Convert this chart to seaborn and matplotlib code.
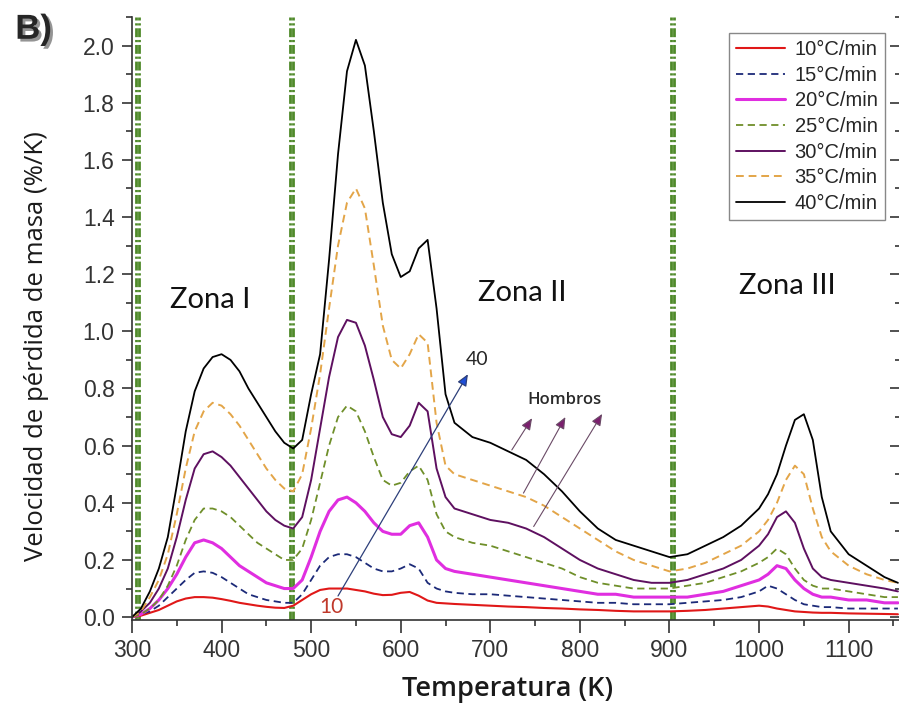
import matplotlib
matplotlib.use('Agg')
import matplotlib.pyplot as plt
import matplotlib.patheffects as pe
from matplotlib.ticker import MultipleLocator
import seaborn as sns

# --- data (K, %/K) ---
temps = [300, 310, 320, 330, 340, 350, 360, 370, 380, 390, 400, 410, 420, 430, 440, 450,
         460, 470, 480, 490, 500, 510, 520, 530, 540, 550, 560, 570, 580, 590, 600, 610,
         620, 630, 640, 650, 660, 680, 700, 720, 740, 760, 780, 800, 820, 840, 860, 880,
         900, 920, 940, 960, 980, 1000, 1010, 1020, 1030, 1040, 1050, 1060, 1070, 1080,
         1100, 1120, 1140, 1155]

rate_10 = [0.0, 0.005, 0.015, 0.025, 0.04, 0.055, 0.065, 0.07, 0.07, 0.068, 0.063, 0.057,
           0.05, 0.045, 0.04, 0.036, 0.033, 0.032, 0.04, 0.06, 0.08, 0.095, 0.10, 0.10, 0.10,
           0.095, 0.09, 0.082, 0.077, 0.078, 0.085, 0.088, 0.075, 0.058, 0.05, 0.048, 0.046,
           0.043, 0.04, 0.037, 0.035, 0.032, 0.03, 0.027, 0.025, 0.022, 0.02, 0.02, 0.02,
           0.022, 0.025, 0.03, 0.035, 0.04, 0.037, 0.03, 0.025, 0.02, 0.018, 0.016, 0.015,
           0.015, 0.013, 0.012, 0.011, 0.01]
rate_15 = [0.0, 0.01, 0.02, 0.04, 0.07, 0.10, 0.13, 0.155, 0.16, 0.155, 0.14, 0.12, 0.10,
           0.08, 0.07, 0.06, 0.055, 0.05, 0.05, 0.08, 0.13, 0.18, 0.21, 0.22, 0.22, 0.21, 0.19,
           0.17, 0.16, 0.16, 0.17, 0.185, 0.17, 0.12, 0.10, 0.09, 0.085, 0.08, 0.08, 0.075,
           0.07, 0.065, 0.06, 0.055, 0.05, 0.05, 0.045, 0.045, 0.045, 0.05, 0.055, 0.06, 0.07,
           0.09, 0.11, 0.10, 0.08, 0.06, 0.045, 0.04, 0.035, 0.035, 0.03, 0.03, 0.03, 0.03]
rate_20 = [0.0, 0.01, 0.03, 0.06, 0.10, 0.15, 0.21, 0.26, 0.27, 0.26, 0.24, 0.21, 0.18,
           0.16, 0.14, 0.12, 0.11, 0.10, 0.10, 0.13, 0.21, 0.30, 0.37, 0.41, 0.42, 0.40, 0.37,
           0.33, 0.30, 0.29, 0.29, 0.32, 0.33, 0.28, 0.20, 0.17, 0.16, 0.15, 0.14, 0.13, 0.12,
           0.11, 0.10, 0.09, 0.08, 0.08, 0.07, 0.07, 0.07, 0.07, 0.08, 0.09, 0.11, 0.13, 0.15,
           0.18, 0.17, 0.13, 0.10, 0.08, 0.07, 0.07, 0.06, 0.06, 0.05, 0.05]
rate_25 = [0.0, 0.01, 0.03, 0.06, 0.11, 0.18, 0.27, 0.34, 0.38, 0.38, 0.37, 0.35, 0.32,
           0.29, 0.26, 0.24, 0.22, 0.20, 0.20, 0.24, 0.34, 0.47, 0.60, 0.70, 0.74, 0.72, 0.65,
           0.56, 0.48, 0.46, 0.47, 0.51, 0.53, 0.48, 0.36, 0.30, 0.28, 0.26, 0.25, 0.23, 0.21,
           0.19, 0.17, 0.14, 0.12, 0.11, 0.10, 0.10, 0.10, 0.11, 0.12, 0.14, 0.16, 0.19, 0.21,
           0.24, 0.22, 0.17, 0.13, 0.11, 0.10, 0.10, 0.09, 0.08, 0.07, 0.07]
rate_30 = [0.0, 0.02, 0.05, 0.10, 0.17, 0.28, 0.41, 0.52, 0.57, 0.58, 0.56, 0.53, 0.49,
           0.45, 0.41, 0.37, 0.34, 0.32, 0.31, 0.35, 0.48, 0.66, 0.84, 0.98, 1.04, 1.03, 0.95,
           0.83, 0.70, 0.64, 0.63, 0.67, 0.75, 0.72, 0.52, 0.42, 0.38, 0.36, 0.34, 0.33, 0.31,
           0.28, 0.24, 0.20, 0.17, 0.15, 0.13, 0.12, 0.12, 0.13, 0.15, 0.17, 0.20, 0.25, 0.29,
           0.35, 0.37, 0.33, 0.24, 0.17, 0.14, 0.13, 0.12, 0.11, 0.10, 0.09]
rate_35 = [0.0, 0.02, 0.07, 0.13, 0.22, 0.36, 0.52, 0.65, 0.72, 0.75, 0.74, 0.71, 0.67,
           0.62, 0.57, 0.52, 0.48, 0.45, 0.44, 0.50, 0.66, 0.85, 1.08, 1.30, 1.45, 1.50, 1.43,
           1.23, 1.02, 0.90, 0.87, 0.92, 0.99, 0.96, 0.68, 0.53, 0.50, 0.48, 0.46, 0.44, 0.42,
           0.39, 0.35, 0.31, 0.27, 0.23, 0.20, 0.18, 0.16, 0.17, 0.19, 0.22, 0.25, 0.30, 0.34,
           0.40, 0.48, 0.53, 0.50, 0.38, 0.28, 0.23, 0.18, 0.15, 0.13, 0.12]
rate_40 = [0.0, 0.03, 0.09, 0.17, 0.28, 0.46, 0.65, 0.79, 0.87, 0.91, 0.92, 0.90, 0.86,
           0.80, 0.75, 0.70, 0.65, 0.61, 0.59, 0.62, 0.78, 0.92, 1.25, 1.62, 1.91, 2.02, 1.93,
           1.70, 1.45, 1.27, 1.19, 1.21, 1.29, 1.32, 1.08, 0.78, 0.68, 0.63, 0.61, 0.58, 0.55,
           0.50, 0.44, 0.37, 0.31, 0.27, 0.25, 0.23, 0.21, 0.22, 0.25, 0.28, 0.32, 0.38, 0.43,
           0.50, 0.60, 0.69, 0.71, 0.62, 0.42, 0.30, 0.22, 0.18, 0.14, 0.12]

labels = ['10°C/min', '15°C/min', '20°C/min', '25°C/min', '30°C/min', '35°C/min', '40°C/min']
series = [rate_10, rate_15, rate_20, rate_25, rate_30, rate_35, rate_40]
colors = ['#e01818', '#1c2a78', '#e02ee0', '#6f8f2a', '#5e1060', '#e3a548', '#000000']
styles = ['-', (0, (4, 2.5)), '-', (0, (4, 2.5)), '-', (0, (4, 2.5)), '-']
widths = [1.5, 1.3, 2.2, 1.3, 1.4, 1.4, 1.3]

zone_bounds = [306, 478, 903]
zone_names = ['Zona I', 'Zona II', 'Zona III']
zone_pos = [(387, 1.11), (736, 1.135), (1032, 1.16)]

sns.set_style('ticks')
plt.rcParams['font.family'] = ['Liberation Sans', 'DejaVu Sans']

fig = plt.figure(figsize=(8.99, 7.10), dpi=100)
ax = fig.add_axes([0.1468, 0.1268, 0.8540, 0.8493])

# zone separators: doubled dash-dot lines
for xb in zone_bounds:
    for off in (-1.8, 1.8):
        ax.axvline(xb + off, color='#4f8a2a', lw=2.0, ls=(0, (3.2, 1.0, 0.8, 1.0)), zorder=1.5)

for vals, lab, c, ls, lw in zip(series, labels, colors, styles, widths):
    sns.lineplot(x=temps, y=vals, color=c, linestyle=ls, lw=lw, label=lab,
                 errorbar=None, ax=ax, zorder=2)

ax.set_xlim(300, 1157)
ax.set_ylim(-0.01, 2.1)
ax.xaxis.set_major_locator(MultipleLocator(100))
ax.xaxis.set_minor_locator(MultipleLocator(50))
ax.yaxis.set_major_locator(MultipleLocator(0.2))
ax.yaxis.set_minor_locator(MultipleLocator(0.1))
ax.yaxis.set_major_formatter(plt.FuncFormatter(lambda v, p: f'{v:.1f}'))

ax.spines['top'].set_visible(False)
for s in ('left', 'bottom', 'right'):
    ax.spines[s].set_color('#333333')
    ax.spines[s].set_linewidth(1.2)
ax.tick_params(axis='both', which='major', direction='out', length=9, width=1.2,
               color='#333333', labelsize=16.5, labelcolor='#333333', pad=5)
ax.tick_params(axis='both', which='minor', direction='out', length=4.5, width=1.2, color='#333333')
ax.tick_params(axis='y', which='major', length=7.5)

# inward ticks on the right edge
sec = ax.secondary_yaxis('right')
sec.yaxis.set_major_locator(MultipleLocator(0.2))
sec.yaxis.set_minor_locator(MultipleLocator(0.1))
sec.tick_params(which='major', direction='in', length=7, width=1.2, color='#333333', labelright=False)
sec.tick_params(which='minor', direction='in', length=3.5, width=1.2, color='#333333')
sec.spines['right'].set_color('#333333')

ax.set_xlabel('Temperatura (K)', fontsize=19.5, fontweight='semibold',
              family=['Open Sans', 'DejaVu Sans'], color='#1a1a1a')
ax.xaxis.set_label_coords(0.489, -0.092)
ax.set_ylabel('Velocidad de pérdida de masa (%/K)', fontsize=18.5, fontweight='medium',
              family=['Open Sans', 'DejaVu Sans'], color='#1a1a1a')
ax.yaxis.set_label_coords(-0.108, 0.455)

for name, (zx, zy) in zip(zone_names, zone_pos):
    ax.text(zx, zy, name, fontsize=21, family=['Lato', 'DejaVu Sans'], color='#111111',
            ha='center', va='center')

# heating-rate arrow 10 -> 40
ax.annotate('', xy=(675, 0.85), xytext=(530, 0.074),
            arrowprops=dict(arrowstyle='-|>,head_length=0.7,head_width=0.3', fc='#1f4fd8',
                            ec='#2d3f7a', lw=0.9, shrinkA=0, shrinkB=0))
ax.text(685, 0.9, '40', fontsize=14, family=['Lato', 'DejaVu Sans'], ha='center', va='center')
ax.text(523, 0.036, '10', fontsize=15, family=['Lato', 'DejaVu Sans'], color='#c0392b',
        ha='center', va='center')

# shoulders
ax.text(783, 0.76, 'Hombros', fontsize=12, fontweight='semibold',
        family=['Open Sans', 'DejaVu Sans'], color='#2a2a2a', ha='center', va='center')
for tail, tip in [((724, 0.585), (746.6, 0.696)), ((737, 0.434), (783.8, 0.70)),
                  ((748.4, 0.317), (824.8, 0.711))]:
    ax.annotate('', xy=tip, xytext=tail,
                arrowprops=dict(arrowstyle='-|>,head_length=0.7,head_width=0.3', fc='#7b1f6e',
                                ec='#6a4a66', lw=0.8, shrinkA=0, shrinkB=0))

leg = ax.legend(loc='upper right', bbox_to_anchor=(0.9804, 0.9735), borderaxespad=0,
                fontsize=14.5, handlelength=2.4, labelspacing=0.33, fancybox=False,
                edgecolor='#888888', framealpha=1, borderpad=0.35, handletextpad=0.5)
leg.get_frame().set_linewidth(1.0)

fig.text(0.017, 0.982, 'B)', fontsize=25, fontweight='bold', va='top',
         path_effects=[pe.withSimplePatchShadow(offset=(2, -2), shadow_rgbFace='#888888', alpha=0.9)])

fig.savefig('out.png', dpi=100)
